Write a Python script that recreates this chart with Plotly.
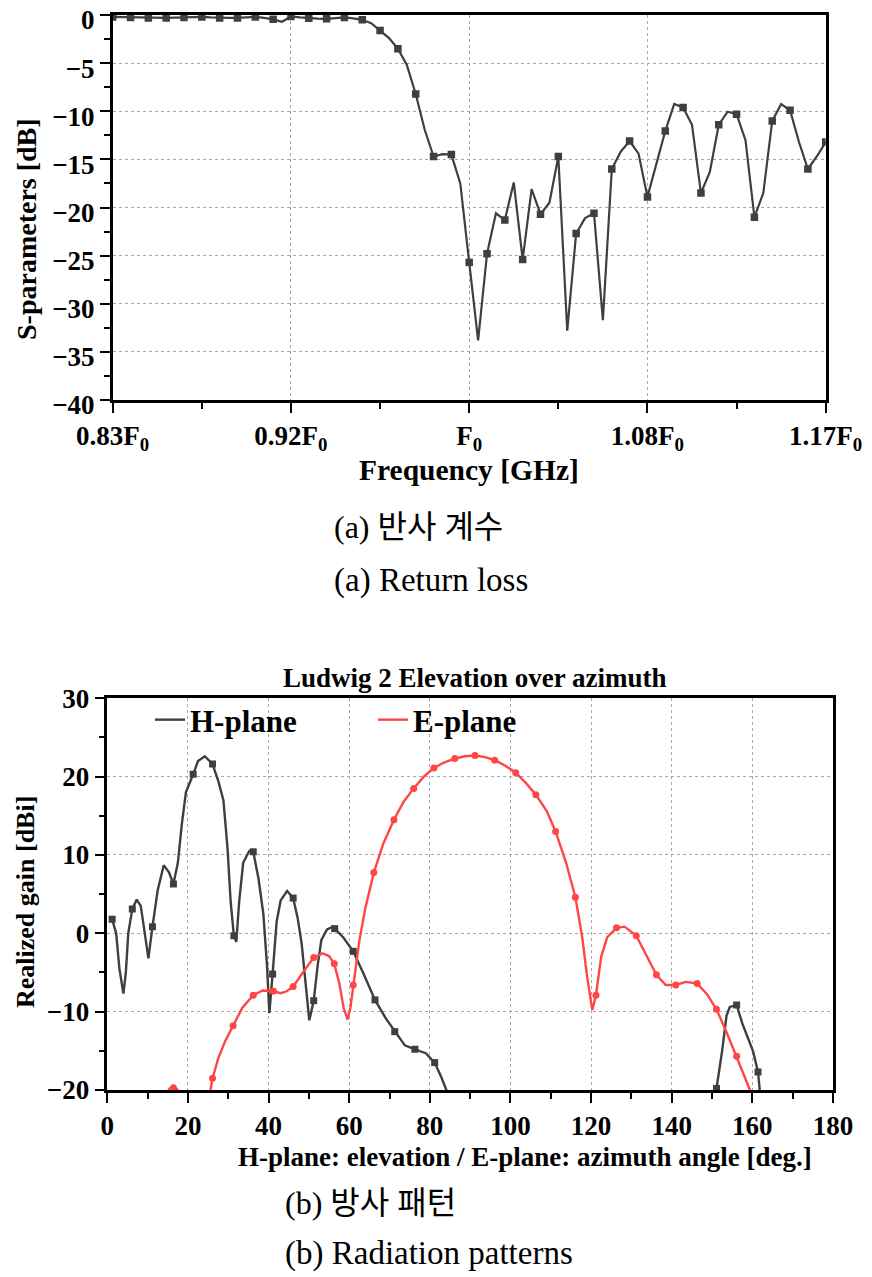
import plotly.graph_objects as go

# ---------------- (a) Return loss data ----------------
# uniform frequency sweep (normalised to F0), markers every other sweep point
S11_FREQ = [round(0.83 + 0.00425 * i, 5) for i in range(81)]
S11_DB = [
    -0.2, -0.22, -0.25, -0.28, -0.3, -0.3, -0.3, -0.28, -0.25, -0.22,
    -0.2, -0.25, -0.3, -0.3, -0.3, -0.25, -0.2, -0.3, -0.45, -0.7,
    -0.15, -0.25, -0.35, -0.38, -0.4, -0.32, -0.25, -0.35, -0.5, -0.85,
    -1.6, -2.4, -3.5, -5.2, -8.2, -11.9, -14.7, -14.45, -14.5, -17.5,
    -25.7, -33.8, -24.8, -20.6, -21.3, -17.4, -25.4, -18.1, -20.7, -19.5,
    -14.7, -32.8, -22.7, -21.1, -20.6, -31.7, -16.0, -14.2, -13.1, -14.4,
    -18.9, -15.4, -12.05, -9.25, -9.6, -11.4, -18.5, -16.3, -11.4, -10.05,
    -10.3, -13.0, -21.0, -18.5, -11.0, -9.25, -9.9, -13.2, -16.0, -14.7,
    -13.2,
]
S11_MARK_FREQ = S11_FREQ[::2]
S11_MARK_DB = S11_DB[::2]

TOP_X_TICKVALS = [0.83, 0.915, 1.0, 1.085, 1.17]
TOP_X_TICKTEXT = ["0.83F<sub>0</sub>", "0.92F<sub>0</sub>", "F<sub>0</sub>",
                  "1.08F<sub>0</sub>", "1.17F<sub>0</sub>"]
TOP_X_MINOR = [0.8725, 0.9575, 1.0425, 1.1275]

# ---------------- (b) Radiation pattern data ----------------
H_LINE_DEG = [0.5, 1.2, 2.2, 3.0, 4.0, 4.6, 5.2, 6.2, 7.3, 8.3, 9.3, 10.2, 11.2,
              12.5, 14.0, 15.3, 16.4, 17.5, 18.5, 19.5, 21.3, 22.5, 24.2, 26.1,
              27.5, 28.8, 29.8, 30.6, 31.4, 32.0, 32.7, 33.7, 35.2, 36.2, 37.5,
              38.7, 39.6, 40.2, 41.0, 42.0, 43.0, 44.6, 46.1, 47.2, 48.2, 49.2,
              50.1, 51.2, 52.2, 53.1, 54.5, 56.0, 56.4, 58.5, 61.0, 63.5, 66.4,
              69.0, 71.3, 73.8, 76.3, 79.0, 81.2, 82.8, 84.1, 85.5, None,
              150.3, 151.1, 152.5, 153.6, 154.4, 156.1, 157.5, 159.0, 160.2,
              161.4, 161.8, 162.2]
H_LINE_DB = [1.8, 1.8, 0.0, -4.5, -7.7, -5.0, 0.0, 3.1, 4.3, 3.5, 0.0, -3.2, 0.85,
             5.5, 8.7, 7.8, 6.3, 9.0, 14.0, 18.0, 20.3, 22.0, 22.6, 21.6,
             19.5, 17.0, 11.0, 4.0, -0.3, -1.1, 4.0, 9.0, 10.5, 10.4, 7.0,
             2.5, -4.0, -10.2, -5.2, 1.5, 4.2, 5.4, 4.5, 2.0, -1.3, -6.0,
             -11.1, -8.6, -4.0, -0.85, 0.5, 0.85, 0.6, -0.5, -2.3, -5.1, -8.5,
             -10.8, -12.55, -14.3, -14.8, -15.3, -16.5, -18.3, -20.0, -22.0, None,
             -22.0, -19.8, -15.0, -10.5, -9.4, -9.15, -11.5, -13.5, -15.1,
             -17.7, -20.0, -22.0]
H_MARK_DEG = [1.2, 6.2, 11.2, 16.4, 21.3, 26.1, 31.4, 36.2, 41.0, 46.1, 51.2,
              56.4, 61.0, 66.4, 71.3, 76.3, 81.2, 151.1, 156.1, 161.4]
H_MARK_DB = [1.8, 3.1, 0.85, 6.3, 20.3, 21.6, -0.3, 10.4, -5.2, 4.5, -8.6,
             0.6, -2.3, -8.5, -12.55, -14.8, -16.5, -19.8, -9.15, -17.7]

E_LINE_DEG = [14.5, 15.5, 16.4, 17.3, 18.2, None,
              25.0, 25.6, 26.1, 27.5, 29.2, 31.2, 33.5, 36.2, 38.5, 41.2, 43.0,
              44.5, 46.1, 48.5, 51.2, 53.4, 55.0, 56.3, 57.6, 58.6, 59.6, 60.3,
              61.0, 62.5, 64.0, 66.1, 68.5, 71.1, 73.5, 76.0, 78.5, 81.0, 83.5,
              86.2, 88.7, 91.2, 93.7, 96.1, 98.7, 101.3, 103.8, 106.3, 109.0,
              111.2, 113.8, 116.1, 117.8, 119.0, 120.3, 121.2, 122.5, 124.0,
              126.3, 128.3, 131.2, 133.6, 136.2, 138.5, 141.0, 143.5, 146.3,
              148.8, 151.1, 153.5, 156.1, 157.8, 159.4, 160.2]
E_LINE_DB = [-20.6, -19.8, -19.7, -19.9, -20.6, None,
             -21.0, -20.0, -18.5, -16.0, -13.8, -11.8, -9.5, -7.9, -7.3, -7.4, -7.65,
             -7.4, -6.8, -5.0, -3.1, -2.55, -2.9, -3.9, -6.5, -9.5, -11.0, -9.5,
             -6.6, -1.0, 3.2, 7.75, 11.5, 14.5, 16.8, 18.5, 20.0, 21.1, 21.8,
             22.3, 22.6, 22.7, 22.5, 22.1, 21.4, 20.5, 19.2, 17.7, 15.6,
             13.0, 9.0, 4.6, -0.5, -5.5, -9.8, -7.9, -3.0, -0.5,
             0.7, 0.85, -0.3, -2.8, -5.3, -6.6, -6.6, -6.2, -6.4,
             -7.8, -9.7, -12.5, -15.7, -18.0, -20.0, -21.5]
E_MARK_DEG = [16.4, 26.1, 31.2, 36.2, 41.2, 46.1, 51.2, 56.3, 61.0, 66.1, 71.1,
              76.0, 81.0, 86.2, 91.2, 96.1, 101.3, 106.3, 111.2, 116.1, 121.2,
              126.3, 131.2, 136.2, 141.0, 146.3, 151.1, 156.1]
E_MARK_DB = [-19.7, -18.5, -11.8, -7.9, -7.4, -6.8, -3.1, -3.9, -6.6, 7.75, 14.5,
             18.5, 21.1, 22.3, 22.7, 22.1, 20.5, 17.7, 13.0, 4.6, -7.9,
             0.7, -0.3, -5.3, -6.6, -6.4, -9.7, -15.7]

# ---------------- styling ----------------
OFF = 8                      # the page body adds an 8 px margin
W, H = 872 - OFF, 1277 - OFF
SERIF = "Liberation Serif, Times New Roman, serif"
CAP_FONT = "Liberation Serif, Noto Sans CJK KR, serif"
DARK = "#3f3f3f"
RED = "#ff4646"


def px(x):
    return (x - OFF) / W


def py(y):
    return 1 - (y - OFF) / H


fig = go.Figure()

# (a)
fig.add_trace(go.Scatter(x=S11_FREQ, y=S11_DB, mode="lines", xaxis="x", yaxis="y",
                         line=dict(color=DARK, width=2.2), showlegend=False))
fig.add_trace(go.Scatter(x=S11_MARK_FREQ, y=S11_MARK_DB, mode="markers", xaxis="x", yaxis="y",
                         marker=dict(symbol="square", size=7.5, color=DARK), showlegend=False))

# (b)
fig.add_trace(go.Scatter(x=H_LINE_DEG, y=H_LINE_DB, mode="lines", xaxis="x2", yaxis="y2",
                         name="H-plane", line=dict(color=DARK, width=2.4)))
fig.add_trace(go.Scatter(x=E_LINE_DEG, y=E_LINE_DB, mode="lines", xaxis="x2", yaxis="y2",
                         name="E-plane", line=dict(color=RED, width=2.4)))
fig.add_trace(go.Scatter(x=H_MARK_DEG, y=H_MARK_DB, mode="markers", xaxis="x2", yaxis="y2",
                         marker=dict(symbol="square", size=7, color=DARK), showlegend=False))
fig.add_trace(go.Scatter(x=E_MARK_DEG, y=E_MARK_DB, mode="markers", xaxis="x2", yaxis="y2",
                         marker=dict(symbol="circle", size=7, color=RED), showlegend=False))

tickfont = dict(family=SERIF, size=27, color="black", weight="bold")
common = dict(showline=True, linecolor="black", linewidth=2.5, mirror=True,
              ticks="outside", ticklen=10, tickwidth=2, tickcolor="black",
              showgrid=True, gridcolor="#a8a8a8", gridwidth=1, griddash="3px,3px",
              zeroline=False, tickfont=tickfont, automargin=False,
              ticklabeloverflow="allow")

fig.update_layout(
    width=W, height=H, margin=dict(l=0, r=0, t=0, b=0, autoexpand=False),
    paper_bgcolor="white", plot_bgcolor="white",
    xaxis=dict(domain=[px(112.7), px(825.7)], anchor="y", range=[0.83, 1.17],
               tickmode="array", tickvals=TOP_X_TICKVALS, ticktext=TOP_X_TICKTEXT,
               minor=dict(tickmode="array", tickvals=TOP_X_MINOR, ticks="outside",
                          ticklen=6, tickwidth=2, tickcolor="black", showgrid=False),
               **common),
    yaxis=dict(domain=[py(400), py(15)], anchor="x", range=[-40, 0], dtick=5,
               ticklabelshift=5,
               minor=dict(dtick=2.5, ticks="outside", ticklen=6, tickwidth=2,
                          tickcolor="black", showgrid=False),
               **common),
    xaxis2=dict(domain=[px(107.3), px(833)], anchor="y2", range=[0, 180], dtick=20,
                minor=dict(dtick=10, ticks="outside", ticklen=6, tickwidth=2,
                           tickcolor="black", showgrid=False),
                **common),
    yaxis2=dict(domain=[py(1090), py(698.3)], anchor="x2", range=[-20, 30], dtick=10,
                minor=dict(dtick=5, ticks="outside", ticklen=6, tickwidth=2,
                           tickcolor="black", showgrid=False),
                **common),
    legend=dict(orientation="h", x=px(150), y=py(720), xanchor="left", yanchor="middle",
                bgcolor="rgba(0,0,0,0)", entrywidth=178, entrywidthmode="pixels",
                font=dict(family=SERIF, size=31, color="black", weight="bold")),
)

ann = []


def add_text(text, x, y, size, bold=True, angle=0, xanchor="center", family=SERIF):
    ann.append(dict(text=text, x=px(x), y=py(y), xref="paper", yref="paper",
                    showarrow=False, textangle=angle, xanchor=xanchor, yanchor="middle",
                    font=dict(family=family, size=size, color="black",
                              weight="bold" if bold else "normal")))


add_text("S-parameters [dB]", 26, 229, 28, angle=-90)
add_text("Frequency [GHz]", 468.5, 470, 29.5)
add_text("Ludwig 2 Elevation over azimuth", 474.5, 678, 27)
add_text("Realized gain [dBi]", 25, 902, 26, angle=-90)
add_text("H-plane: elevation / E-plane: azimuth angle [deg.]", 524.5, 1157, 27)
add_text("(a) 반사 계수", 332, 527, 32, bold=False, xanchor="left", family=CAP_FONT)
add_text("(a) Return loss", 332, 580, 33, bold=False, xanchor="left", family=CAP_FONT)
add_text("(b) 방사 패턴", 283, 1203, 32, bold=False, xanchor="left", family=CAP_FONT)
add_text("(b) Radiation patterns", 283, 1253, 33, bold=False, xanchor="left", family=CAP_FONT)
fig.update_layout(annotations=ann)

fig.write_html("out.html")
